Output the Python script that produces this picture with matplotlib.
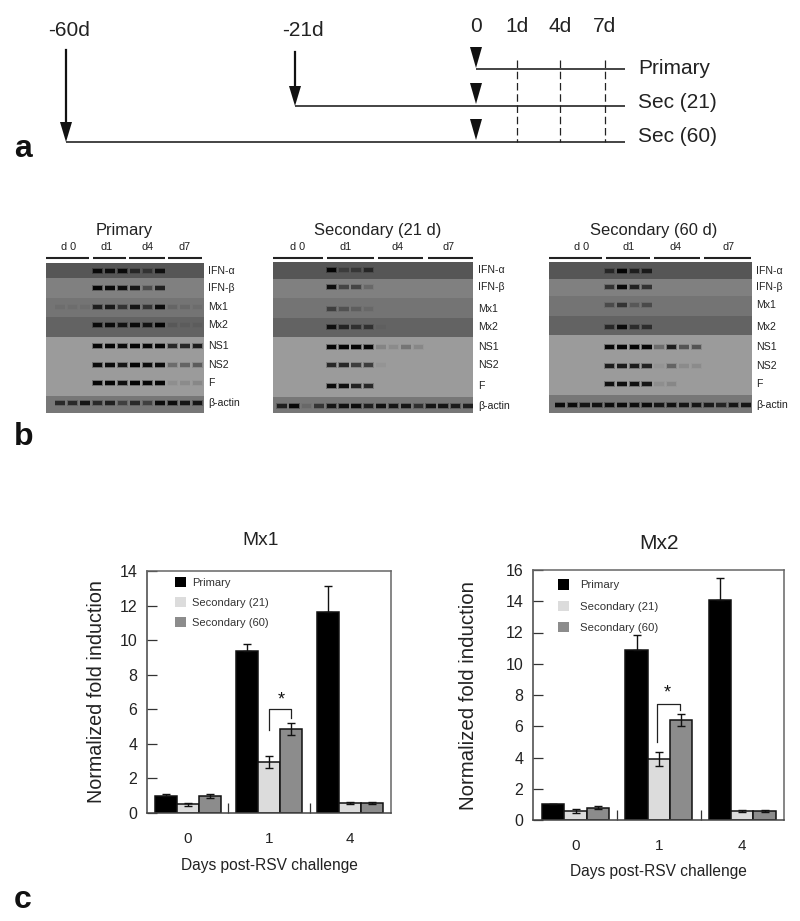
import matplotlib
matplotlib.use("Agg")
import matplotlib.pyplot as plt
from matplotlib.patches import Patch, Rectangle

plt.rcParams['font.family'] = ['Liberation Sans', 'DejaVu Sans']
W, H = 800, 921
TXT = '#222222'

# ---------- data ----------
days = ['0', '1', '4']
series = ['Primary', 'Secondary (21)', 'Secondary (60)']
colors = ['#000000', '#dcdcdc', '#8c8c8c']
mx1_values = [[1.0, 9.35, 11.65], [0.5, 2.95, 0.58], [1.0, 4.85, 0.58]]
mx1_errors = [[0.08, 0.42, 1.5], [0.1, 0.35, 0.05], [0.12, 0.33, 0.07]]
mx2_values = [[1.05, 10.9, 14.05], [0.6, 3.9, 0.6], [0.8, 6.4, 0.6]]
mx2_errors = [[0.0, 0.95, 1.45], [0.13, 0.45, 0.07], [0.07, 0.4, 0.07]]

gene_labels = ['IFN-α', 'IFN-β', 'Mx1', 'Mx2', 'NS1', 'NS2', 'F', 'β-actin']
gel_primary = [
    [0, 0, 0, .9, .85, .9, .5, .35, .8, 0, 0, 0],
    [0, 0, 0, 1, .95, .9, .8, .35, .7, 0, 0, 0],
    [.04, .04, .04, .7, .75, .5, .8, .5, .9, .1, .08, .05],
    [0, 0, 0, .9, .9, .8, .9, .8, 1, .08, .05, .05],
    [0, 0, 0, 1, 1, .95, 1, 1, 1, .7, .7, .8],
    [0, 0, 0, .95, .95, .85, 1, .95, .95, .25, .3, .35],
    [0, 0, 0, 1, 1, .9, 1, 1, 1, .06, .08, .1],
    [.6, .6, .8, .6, .7, .4, .6, .4, .9, .9, .8, .8],
]
gel_sec21 = [
    [0, 0, 0, 0, 1, .25, .3, .5, 0, 0, 0, 0, 0, 0, 0, 0],
    [0, 0, 0, 0, .9, .4, .4, .15, 0, 0, 0, 0, 0, 0, 0, 0],
    [0, 0, 0, 0, .4, .25, .15, .08, 0, 0, 0, 0, 0, 0, 0, 0],
    [0, 0, 0, 0, .85, .6, .45, .45, .03, 0, 0, 0, 0, 0, 0, 0],
    [0, 0, 0, 0, 1, 1, 1, 1, .12, .08, .2, .1, 0, 0, 0, 0],
    [0, 0, 0, 0, .7, .7, .55, .55, .03, 0, 0, 0, 0, 0, 0, 0],
    [0, 0, 0, 0, .95, .9, .75, .7, 0, 0, 0, 0, 0, 0, 0, 0],
    [.7, .95, .1, .5, .8, .85, .9, .7, .85, .8, .8, .55, .8, .8, .75, .7],
]
gel_sec60 = [
    [0, 0, 0, 0, .5, 1, .6, .65, 0, 0, 0, 0, 0, 0, 0, 0],
    [0, 0, 0, 0, .55, .95, .7, .55, 0, 0, 0, 0, 0, 0, 0, 0],
    [0, 0, 0, 0, .3, .5, .2, .3, 0, 0, 0, 0, 0, 0, 0, 0],
    [0, 0, 0, 0, .55, .9, .5, .5, 0, 0, 0, 0, 0, 0, 0, 0],
    [0, 0, 0, 0, 1, 1, 1, 1, .25, .8, .4, .4, 0, 0, 0, 0],
    [0, 0, 0, 0, .8, .8, .8, .75, .03, .3, .08, .08, 0, 0, 0, 0],
    [0, 0, 0, 0, .9, .9, .9, .85, .06, .1, 0, 0, 0, 0, 0, 0],
    [.9, .9, .8, .85, .9, .9, .9, .9, .8, .85, .8, .8, .75, .65, .8, .8],
]
row_shades = ['#565656', '#808080', '#747474', '#636363', '#9b9b9b', '#9b9b9b', '#9b9b9b', '#777777']
day_groups = ['d 0', 'd1', 'd4', 'd7']

fig = plt.figure(figsize=(W / 100, H / 100), dpi=100)
ov = fig.add_axes([0, 0, 1, 1])
ov.set_xlim(0, W); ov.set_ylim(H, 0); ov.axis('off')

# ---------- panel a: timeline ----------
day_labels = ['-60d', '-21d', '0', '1d', '4d', '7d']
day_x = [66, 295, 476, 517, 560, 605]
label_x = [69, 303, 476, 517, 560, 605]
label_y = [31, 31, 27, 27, 27, 27]
lines = ['Primary', 'Sec (21)', 'Sec (60)']
line_y = [69, 106, 142]
line_start = [476, 295, 66]
name_y = [68, 102, 136]
END = 625
for t, x, y in zip(day_labels, label_x, label_y):
    ov.text(x, y, t, fontsize=15, ha='center', va='center', color=TXT)
for x0, y, t, ty in zip(line_start, line_y, lines, name_y):
    ov.plot([x0, END], [y, y], color='#111111', lw=1.1, solid_capstyle='butt')
    ov.text(638, ty, t, fontsize=15, va='center', ha='left', color=TXT)
for x in day_x[3:]:
    ov.plot([x, x], [60, 142], color='#222222', lw=0.9, ls=(0, (6, 3)))
for x, y0 in zip(day_x[:2], [50, 52]):
    ov.plot([x, x], [y0, line_y[line_start.index(x)] - 10], color='#111111', lw=1.6)
    ty = line_y[line_start.index(x)]
    ov.fill([x - 6, x + 6, x], [ty - 20, ty - 20, ty], color='#111111', lw=0)
for tip in [68, 104, 140]:
    ov.fill([470, 482, 476], [tip - 21, tip - 21, tip], color='#111111', lw=0)
for t, y in zip('abc', [149, 437, 900]):
    ov.text(14, y, t, fontsize=23, fontweight='bold', va='center', ha='left', color='#111111')


# ---------- panel b: gels ----------
def gel(matrix, title, tx, x0, x1, bounds, centers, lane0, pitch, segs, labs, labx):
    for top, bot, c in zip(bounds[:-1], bounds[1:], row_shades):
        ov.add_patch(Rectangle((x0, top), x1 - x0, bot - top, fc=c, ec='none'))
    for row, yc in zip(matrix, centers):
        for i, v in enumerate(row):
            if v <= 0:
                continue
            x = lane0 + pitch * i
            ov.add_patch(Rectangle((x - 5.4, yc - 3), 10.8, 6, fc='k', ec='none', alpha=v * 0.3))
            ov.add_patch(Rectangle((x - 4.8, yc - 1.8), 9.6, 3.6, fc='k', ec='none', alpha=v * 0.95))
    for t, yc in zip(gene_labels, centers):
        ov.text(labx, yc, t, fontsize=7.6, va='center', ha='left', color=TXT)
    for (a, b), lx, d in zip(segs, labs, day_groups):
        ov.plot([a, b], [258, 258], color='#222222', lw=1.5, solid_capstyle='butt')
        ov.text(lx, 247, d, fontsize=7.8, ha='center', va='center', color=TXT)
    ov.text(tx, 230, title, fontsize=11.9, ha='center', va='center', color=TXT)


gel(gel_primary, 'Primary', 124, 46, 204, [263, 278, 298, 317, 337, 356, 375, 396, 413],
    [271, 288, 307, 325, 346, 365, 383, 403], 60, 12.5,
    [(46, 89), (93, 126), (129, 165), (168, 202)], [69, 107, 148, 185], 208)
gel(gel_sec21, 'Secondary (21 d)', 378, 273, 473, [262, 279, 298, 318, 337, 356, 375, 397, 413],
    [270, 287, 309, 327, 347, 365, 386, 406], 281.7, 12.42,
    [(273, 323), (327, 374), (378, 423), (428, 473)], [298, 346, 398, 449], 478)
gel(gel_sec60, 'Secondary (60 d)', 654, 549, 752, [262, 279, 296, 316, 335, 354, 373, 395, 413],
    [271, 287, 305, 327, 347, 366, 384, 405], 560, 12.4,
    [(549, 602), (606, 650), (654, 700), (704, 751)], [582, 629, 676, 729], 756)


# ---------- panel c: bars ----------
def to_rect(l, r, t, b):
    return [l / W, 1 - b / H, (r - l) / W, (b - t) / H]


def bars(rect, vals, errs, title, tpos, tsize, ymax, ystep, xlim, bracket, star, leg_anchor, lspace,
         lfont, lpad, lab_x, lab_size, xl_y):
    ax = fig.add_axes(to_rect(*rect), facecolor='none')
    bw = 0.268
    for k, (v, e, c) in enumerate(zip(vals, errs, colors)):
        xs = [i + (k - 1) * bw for i in range(3)]
        ax.bar(xs, v, width=bw, color=c, edgecolor='#111111', linewidth=1.1, label=series[k], zorder=2)
        low = [0] * 3 if k == 0 else e
        ax.errorbar(xs, v, yerr=[low, e], fmt='none', ecolor='#111111', elinewidth=1.0,
                    capsize=2.7, capthick=1.0, zorder=3)
    ax.set_xlim(*xlim); ax.set_ylim(0, ymax)
    ax.set_yticks(range(0, ymax + 1, ystep))
    ax.set_xticks([0.5, 1.5])
    ax.set_xticklabels([])
    ax.tick_params(axis='y', direction='in', length=7.5, width=0.9, labelsize=11.5, pad=7, color='#333333', labelcolor=TXT)
    ax.tick_params(axis='x', direction='in', length=7.5, width=0.9, color='#333333')
    for i, d in enumerate(days):
        ax.annotate(d, (i, 0), xytext=(0, -19), textcoords='offset points', xycoords=('data', 'axes fraction'),
                    ha='center', va='center', fontsize=11, color=TXT)
    for s in ['top', 'right']:
        ax.spines[s].set_color('#666666'); ax.spines[s].set_linewidth(1.1)
    for s in ['left', 'bottom']:
        ax.spines[s].set_color('#444444'); ax.spines[s].set_linewidth(1.1)
    bx0, bx1, by, byl, byr = bracket
    ax.plot([bx0, bx0, bx1, bx1], [byl, by, by, byr], color='#222222', lw=0.9, zorder=4)
    ax.text(star[0], star[1], '*', fontsize=13, ha='center', va='center', color='#111111')
    handles = [Patch(fc=c, ec='none') for c in colors]
    ax.legend(handles, series, loc='upper left', bbox_to_anchor=leg_anchor, bbox_transform=ax.transAxes,
              frameon=False, fontsize=lfont, labelspacing=lspace, handlelength=0.95, handleheight=1.0,
              handletextpad=lpad, borderaxespad=0, borderpad=0, labelcolor='#333333')
    fig.text(lab_x / W, 1 - (rect[2] + rect[3]) / 2 / H, 'Normalized fold induction', rotation=90,
             fontsize=lab_size, ha='center', va='center', color=TXT)
    fig.text((rect[0] + rect[1]) / 2 / W, 1 - xl_y / H, 'Days post-RSV challenge', fontsize=11.2,
             ha='center', va='center', color=TXT)
    fig.text(tpos[0] / W, 1 - tpos[1] / H, title, fontsize=tsize, ha='center', va='center', color=TXT)


bars((147, 391, 571, 813), mx1_values, mx1_errors, 'Mx1', (261, 540), 13.8, 14, 2, (-0.506, 2.506),
     (0.995, 1.275, 6.0, 4.8, 5.5), (1.15, 6.55), (0.115, 0.975), 0.85, 8, 0.6, 96, 14.2, 865)
bars((533, 784, 570, 820), mx2_values, mx2_errors, 'Mx2', (659, 543), 15, 16, 2, (-0.51, 2.5),
     (0.98, 1.25, 7.45, 5.0, 7.05), (1.1, 8.1), (0.1, 0.962), 0.9, 8.2, 0.95, 468, 14.7, 871)

fig.savefig('out.png', dpi=100)
